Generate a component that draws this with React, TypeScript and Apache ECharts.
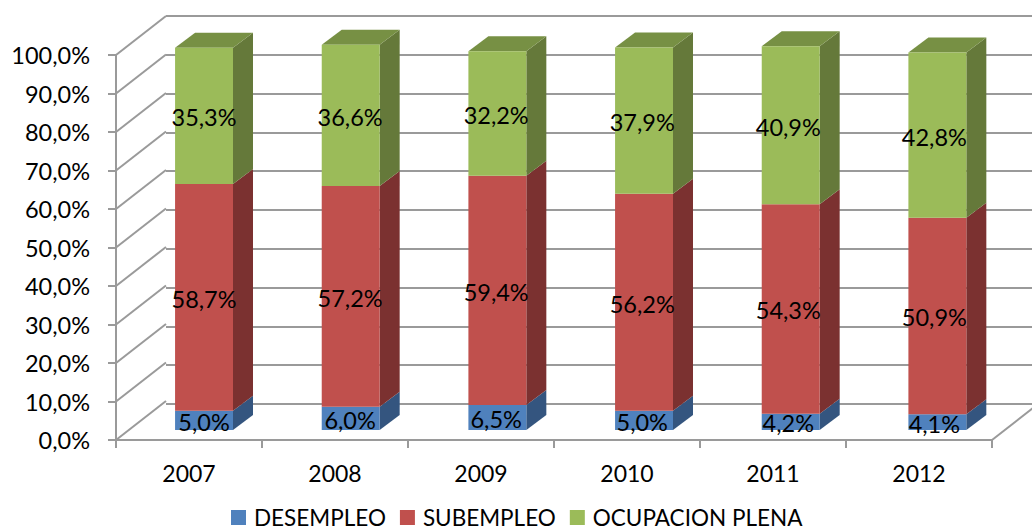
import React, { useEffect, useRef } from "react";
import * as echarts from "echarts";

const categories = ["2007", "2008", "2009", "2010", "2011", "2012"];
const desempleo = [5.0, 6.0, 6.5, 5.0, 4.2, 4.1];
const subempleo = [58.7, 57.2, 59.4, 56.2, 54.3, 50.9];
const ocupacion = [35.3, 36.6, 32.2, 37.9, 40.9, 42.8];
const valueTicks = [0, 10, 20, 30, 40, 50, 60, 70, 80, 90, 100];

const FONT = "Lato";
const GRID_LINE = "#9a9a9a";

const fmt = (v: number) => v.toFixed(1).replace(".", ",") + "%";

function buildRows(values: number[], below: number[][]) {
  return values.map((v, i) => {
    const start = below.reduce((s, arr) => s + arr[i], 0);
    return [i, start, start + v, v];
  });
}

function barSeries(
  name: string,
  rows: number[][],
  front: string,
  side: string,
  top: string | null
) {
  return {
    name,
    type: "custom",
    xAxisIndex: 2,
    yAxisIndex: 2,
    z: 3,
    itemStyle: { color: front },
    encode: { x: 0, y: [1, 2] },
    data: rows,
    renderItem: (params: any, api: any) => {
      const i = api.value(0);
      const a = api.coord([i, api.value(1)]);
      const b = api.coord([i, api.value(2)]);
      const w = api.size([1, 0])[0] * 0.395;
      const l = a[0] - w / 2;
      const r = a[0] + w / 2;
      const dx = 20;
      const dy = 15;
      const children: any[] = [
        {
          type: "polygon",
          shape: { points: [[r, a[1]], [r + dx, a[1] - dy], [r + dx, b[1] - dy], [r, b[1]]] },
          style: { fill: side },
        },
      ];
      if (top) {
        children.push({
          type: "polygon",
          shape: { points: [[l, b[1]], [l + dx, b[1] - dy], [r + dx, b[1] - dy], [r, b[1]]] },
          style: { fill: top },
        });
      }
      children.push({
        type: "rect",
        shape: { x: l, y: b[1], width: r - l, height: a[1] - b[1] },
        style: { fill: front },
      });
      children.push({
        type: "text",
        z2: 100,
        style: {
          x: a[0] - i * 0.6,
          y: (a[1] + b[1]) / 2 + 1.5,
          text: fmt(api.value(3)),
          fill: "#000",
          font: `23.5px ${FONT}`,
          align: "center",
          verticalAlign: "middle",
        },
      });
      return { type: "group", children };
    },
  };
}

export default function App() {
  const ref = useRef<HTMLDivElement>(null);
  useEffect(() => {
    const chart = echarts.init(ref.current!, null, { renderer: "svg" });
    const line = { color: GRID_LINE, width: 2 };
    const hiddenX = { type: "category", data: categories, show: false };
    const hiddenY = { type: "value", min: 0, max: 100, interval: 10, show: false };
    chart.setOption({
      animation: false,
      backgroundColor: "#fff",
      textStyle: { fontFamily: FONT },
      grid: [
        // front plane: carries the visible axes
        { left: 116, top: 55, width: 876, height: 385 },
        // back wall: carries the horizontal grid lines
        { left: 166, top: 16, width: 876, height: 388 },
        // mid-depth plane on which the bars stand
        { left: 130.7, top: 44, width: 880, height: 386 },
      ],
      xAxis: [
        {
          type: "category",
          data: categories,
          gridIndex: 0,
          axisLine: { lineStyle: line },
          axisTick: { show: true, length: 8, alignWithLabel: false, lineStyle: line },
          axisLabel: { fontFamily: FONT, fontSize: 23, color: "#000", margin: 21 },
        },
        { ...hiddenX, gridIndex: 1, show: true, axisLine: { show: false }, axisTick: { show: false }, axisLabel: { show: false } },
        { ...hiddenX, gridIndex: 2 },
      ],
      yAxis: [
        {
          type: "value",
          gridIndex: 0,
          min: 0,
          max: 100,
          interval: 10,
          splitLine: { show: false },
          axisLine: { show: true, lineStyle: line },
          axisTick: { show: true, length: 8, lineStyle: line },
          axisLabel: {
            fontFamily: FONT,
            fontSize: 23.5,
            color: "#000",
            margin: 26,
            padding: [2, 0, 0, 0],
            formatter: (v: number) => fmt(v),
          },
        },
        {
          ...hiddenY,
          gridIndex: 1,
          show: true,
          axisLine: { show: false },
          axisTick: { show: false },
          axisLabel: { show: false },
          splitLine: { show: true, lineStyle: line },
        },
        { ...hiddenY, gridIndex: 2 },
      ],
      legend: {
        data: ["DESEMPLEO", "SUBEMPLEO", "OCUPACION PLENA"],
        left: 231,
        top: 506,
        icon: "rect",
        itemWidth: 15,
        itemHeight: 15,
        itemGap: 14,
        padding: 0,
        selectedMode: false,
        textStyle: { fontFamily: FONT, fontSize: 22.5, lineHeight: 22, height: 22, color: "#000", padding: [0, 0, 0, 3] },
      },
      series: [
        {
          name: "side-wall",
          type: "custom",
          xAxisIndex: 0,
          yAxisIndex: 0,
          z: 1,
          silent: true,
          data: valueTicks.map((v) => [0, v]),
          renderItem: (params: any, api: any) => {
            const p = api.coord([0, api.value(1)]);
            const x0 = p[0] - api.size([1, 0])[0] / 2;
            return {
              type: "line",
              shape: { x1: x0, y1: p[1], x2: x0 + 50, y2: p[1] - 39 },
              style: { stroke: GRID_LINE, lineWidth: 2 },
            };
          },
        },
        {
          name: "floor-edge",
          type: "custom",
          xAxisIndex: 0,
          yAxisIndex: 0,
          z: 1,
          silent: true,
          data: [[categories.length - 1, 0]],
          renderItem: (params: any, api: any) => {
            const p = api.coord([api.value(0), 0]);
            const x0 = p[0] + api.size([1, 0])[0] / 2;
            return {
              type: "line",
              shape: { x1: x0, y1: p[1], x2: x0 + 50, y2: p[1] - 39 },
              style: { stroke: GRID_LINE, lineWidth: 2 },
            };
          },
        },
        barSeries("DESEMPLEO", buildRows(desempleo, []), "#4F81BD", "#34557F", null),
        barSeries("SUBEMPLEO", buildRows(subempleo, [desempleo]), "#C0504D", "#7B3130", null),
        barSeries("OCUPACION PLENA", buildRows(ocupacion, [desempleo, subempleo]), "#9BBB59", "#65793A", "#779044"),
      ],
    });
    return () => chart.dispose();
  }, []);
  return (
    <div
      ref={ref}
      style={{ position: "absolute", left: 0, top: 0, width: 1032, height: 531 }}
    />
  );
}
